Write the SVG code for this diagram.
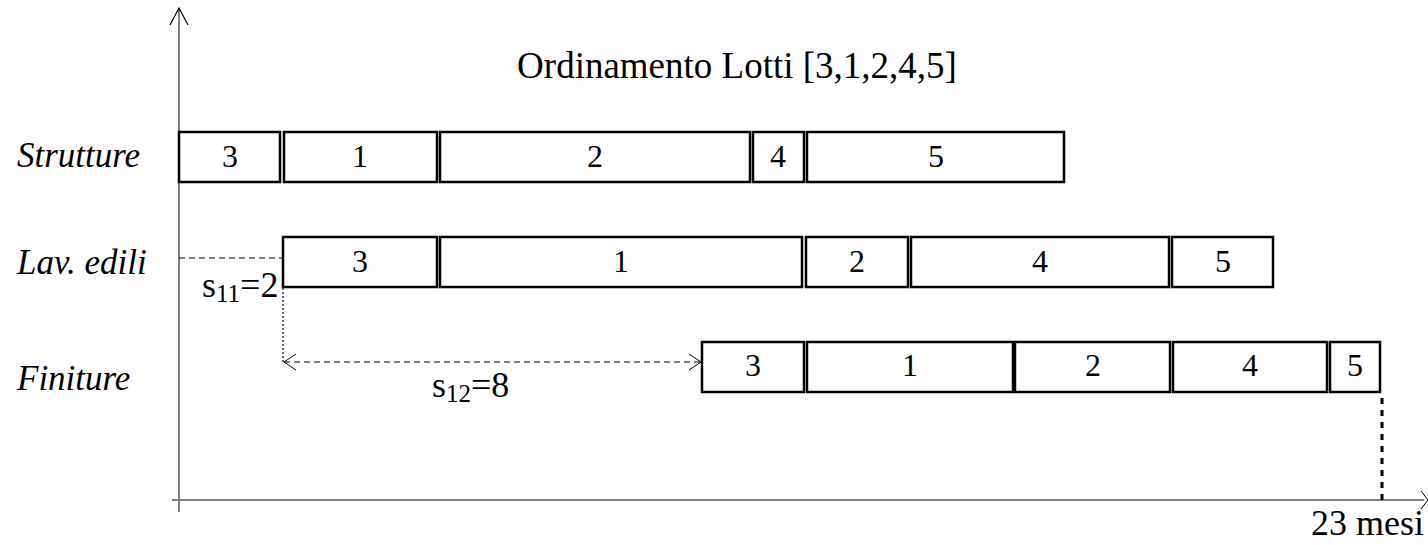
<svg xmlns="http://www.w3.org/2000/svg" width="1428" height="545" viewBox="0 0 1428 545">
<style>
.bar rect{fill:#fff;stroke:#000;stroke-width:2.5}
.bar text{font-family:"Liberation Serif",serif;font-size:32px;text-anchor:middle;fill:#000}
.lbl{font-family:"Liberation Serif",serif;font-size:35px;font-style:italic;fill:#000}
.t{font-family:"Liberation Serif",serif;font-size:36px;fill:#000}
.axis{stroke:#7f7f7f;stroke-width:2;fill:none}
</style>
<rect width="1428" height="545" fill="#fff"/>
<g id="axes">
<line class="axis" x1="179" y1="8" x2="179" y2="512"/>
<polyline points="170,25 179,8 188,25" fill="none" stroke="#000" stroke-width="1.2"/>
<line class="axis" x1="172" y1="500" x2="1424" y2="500"/>
<polyline points="1421,491 1428,500 1421,509" fill="none" stroke="#000" stroke-width="1"/>
</g>
<text class="t" x="737" y="78" text-anchor="middle" style="font-size:37px">Ordinamento Lotti [3,1,2,4,5]</text>
<text class="lbl" x="17" y="167">Strutture</text>
<text class="lbl" x="17" y="274">Lav. edili</text>
<text class="lbl" x="17" y="390">Finiture</text>
<g id="row1" class="bar">
<rect x="179" y="132" width="101" height="50"/><text x="230" y="167">3</text>
<rect x="284" y="132" width="153" height="50"/><text x="360" y="167">1</text>
<rect x="440" y="132" width="310" height="50"/><text x="595" y="167">2</text>
<rect x="753" y="132" width="51" height="50"/><text x="778" y="167">4</text>
<rect x="807" y="132" width="257" height="50"/><text x="936" y="167">5</text>
</g>
<g id="row2" class="bar">
<rect x="283" y="237" width="154" height="50"/><text x="360" y="272">3</text>
<rect x="440" y="237" width="362" height="50"/><text x="621" y="272">1</text>
<rect x="806" y="237" width="102" height="50"/><text x="857" y="272">2</text>
<rect x="911" y="237" width="258" height="50"/><text x="1040" y="272">4</text>
<rect x="1172" y="237" width="101" height="50"/><text x="1223" y="272">5</text>
</g>
<g id="row3" class="bar">
<rect x="702" y="342" width="102" height="50"/><text x="753" y="376">3</text>
<rect x="807" y="342" width="206" height="50"/><text x="910" y="376">1</text>
<rect x="1015" y="342" width="155" height="50"/><text x="1093" y="376">2</text>
<rect x="1173" y="342" width="154" height="50"/><text x="1250" y="376">4</text>
<rect x="1330" y="342" width="50" height="50"/><text x="1355" y="376">5</text>
</g>
<g id="connectors" fill="none" stroke="#000">
<line x1="179" y1="258" x2="283" y2="258" stroke-width="1" stroke-dasharray="6,4"/>
<line x1="283" y1="288" x2="283" y2="362" stroke-width="1.2" stroke-dasharray="2,2"/>
<line x1="284" y1="362" x2="701" y2="362" stroke-width="1" stroke-dasharray="6,4"/>
<polyline points="296,354 284,362 296,370" stroke-width="1"/>
<polyline points="689,354 701,362 689,370" stroke-width="1"/>
<line x1="1382" y1="398" x2="1382" y2="500" stroke-width="3" stroke-dasharray="6,6"/>
</g>
<text class="t" x="202" y="297">s<tspan font-size="25" dy="5">11</tspan><tspan dy="-5">=2</tspan></text>
<text class="t" x="432" y="397">s<tspan font-size="25" dy="5">12</tspan><tspan dy="-5">=8</tspan></text>
<text class="t" x="1311" y="535">23 mesi</text>
</svg>
